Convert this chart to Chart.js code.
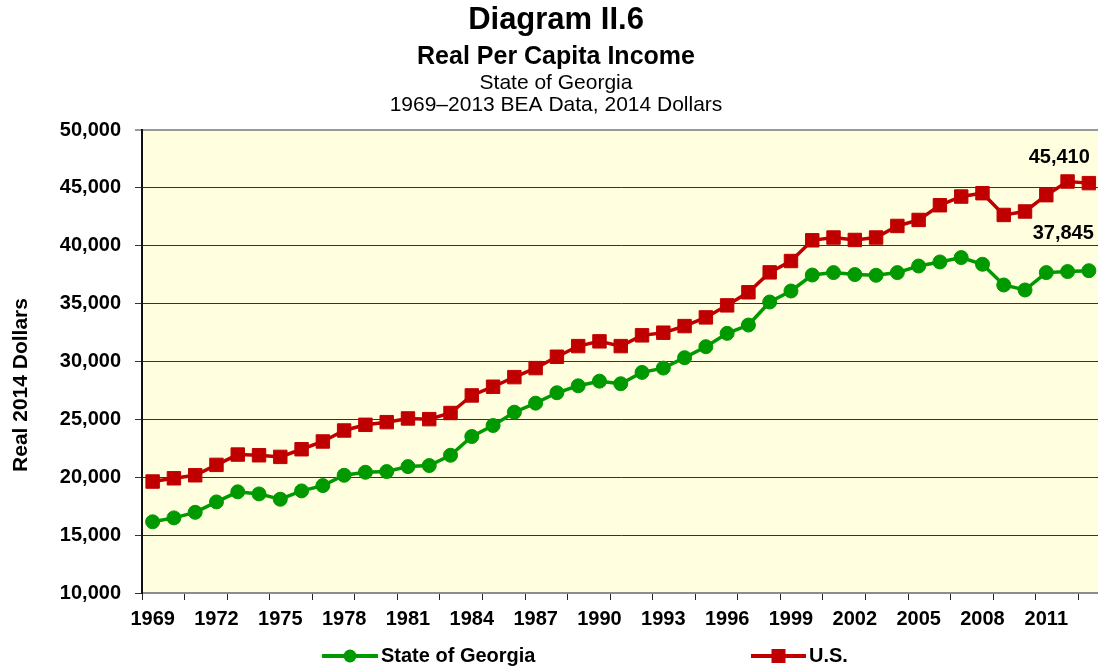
<!DOCTYPE html>
<html>
<head>
<meta charset="utf-8">
<title>Diagram II.6 - Real Per Capita Income</title>
<script src="https://cdn.jsdelivr.net/npm/chart.js@4.4.1/dist/chart.umd.min.js"></script>
<style>
    html, body { margin: 0; padding: 0; background: #fff; overflow: hidden; }
    #wrap { width: 1110px; height: 669px; }
</style>
</head>
<body>
<div id="wrap"><canvas id="incomeChart" width="1110" height="669"></canvas></div>
<script>
// Data (2014 dollars)
const years = [
    '1969', '1970', '1971', '1972', '1973', '1974', '1975', '1976', '1977', '1978',
    '1979', '1980', '1981', '1982', '1983', '1984', '1985', '1986', '1987', '1988',
    '1989', '1990', '1991', '1992', '1993', '1994', '1995', '1996', '1997', '1998',
    '1999', '2000', '2001', '2002', '2003', '2004', '2005', '2006', '2007', '2008',
    '2009', '2010', '2011', '2012', '2013'
];

const georgiaIncome = [
    16150, 16490, 16970, 17870, 18740, 18560, 18100, 18820, 19280, 20170,
    20430, 20490, 20920, 21010, 21900, 23520, 24470, 25620, 26400, 27300,
    27900, 28300, 28080, 29060, 29430, 30330, 31280, 32430, 33150, 35140,
    36090, 37470, 37680, 37510, 37450, 37680, 38250, 38600, 38980, 38400,
    36610, 36180, 37680, 37770, 37845
];

const usIncome = [
    19630, 19910, 20170, 21070, 21960, 21900, 21760, 22420, 23090, 24040,
    24530, 24760, 25080, 25020, 25550, 27070, 27820, 28650, 29430, 30410,
    31330, 31740, 31330, 32260, 32490, 33060, 33810, 34850, 35980, 37700,
    38680, 40470, 40710, 40500, 40710, 41710, 42230, 43500, 44250, 44540,
    42660, 42960, 44370, 45550, 45410
];

// only every third year gets a label
const labeledYears = ['1969', '1972', '1975', '1978', '1981', '1984', '1987', '1990',
    '1993', '1996', '1999', '2002', '2005', '2008', '2011'];

const yTicks = [10000, 15000, 20000, 25000, 30000, 35000, 40000, 45000, 50000];

const seriesNames = ['State of Georgia', 'U.S.'];

const GREEN = '#009900';
const RED = '#c00000';
const FONT = '"Liberation Sans", Arial, Helvetica, sans-serif';

// Yellow plot background
const plotBackground = {
    id: 'plotBackground',
    beforeDraw(chart) {
        const { ctx, chartArea } = chart;
        ctx.save();
        ctx.fillStyle = '#ffffe0';
        ctx.fillRect(chartArea.left, chartArea.top, chartArea.right - chartArea.left, chartArea.bottom - chartArea.top);
        ctx.restore();
    }
};

// Titles, axis title, legend and the end-of-line value labels
const decorations = {
    id: 'decorations',
    afterDraw(chart) {
        const ctx = chart.ctx;
        const cx = 556;
        ctx.save();
        ctx.fillStyle = '#000';
        ctx.textAlign = 'center';
        ctx.textBaseline = 'alphabetic';
        ctx.font = `bold 31px ${FONT}`;
        ctx.fillText('Diagram II.6', cx, 29);
        ctx.font = `bold 25px ${FONT}`;
        ctx.fillText('Real Per Capita Income', cx, 64);
        ctx.font = `21px ${FONT}`;
        ctx.fillText('State of Georgia', cx, 89);
        ctx.fillText('1969\u20132013 BEA Data, 2014 Dollars', cx, 111);

        // y axis title
        ctx.save();
        ctx.translate(21, 385);
        ctx.rotate(-Math.PI / 2);
        ctx.textBaseline = 'middle';
        ctx.font = `bold 21px ${FONT}`;
        ctx.fillText('Real 2014 Dollars', 0, 0);
        ctx.restore();

        // value labels for the last year
        ctx.font = `bold 20px ${FONT}`;
        ctx.textAlign = 'right';
        ctx.textBaseline = 'middle';
        const usMeta = chart.getDatasetMeta(1).data;
        const gaMeta = chart.getDatasetMeta(0).data;
        const usLast = usMeta[usMeta.length - 1];
        const gaLast = gaMeta[gaMeta.length - 1];
        ctx.fillText(usIncome[usIncome.length - 1].toLocaleString('en-US'), usLast.x + 1, usLast.y - 26);
        ctx.fillText(georgiaIncome[georgiaIncome.length - 1].toLocaleString('en-US'), gaLast.x + 5, gaLast.y - 37);

        // legend
        const ly = 656;
        const items = [
            { name: seriesNames[0], color: GREEN, x0: 322, x1: 378, marker: 'circle' },
            { name: seriesNames[1], color: RED, x0: 751, x1: 806, marker: 'rect' }
        ];
        items.forEach(it => {
            ctx.strokeStyle = it.color;
            ctx.lineWidth = 4;
            ctx.beginPath();
            ctx.moveTo(it.x0, ly);
            ctx.lineTo(it.x1, ly);
            ctx.stroke();
            ctx.fillStyle = it.color;
            const mx = (it.x0 + it.x1) / 2;
            if (it.marker === 'circle') {
                ctx.beginPath();
                ctx.arc(mx, ly, 6.5, 0, Math.PI * 2);
                ctx.fill();
            } else {
                ctx.fillRect(mx - 7, ly - 7, 14, 14);
            }
            ctx.fillStyle = '#000';
            ctx.textAlign = 'left';
            ctx.font = `bold 20px ${FONT}`;
            ctx.fillText(it.name, it.x1 + 3, ly);
        });
        ctx.restore();
    }
};

new Chart(document.getElementById('incomeChart'), {
    type: 'line',
    data: {
        labels: years,
        datasets: [
            {
                label: seriesNames[0],
                data: georgiaIncome,
                borderColor: GREEN,
                backgroundColor: GREEN,
                borderWidth: 3.5,
                pointStyle: 'circle',
                pointRadius: 7,
                pointBorderWidth: 1,
                pointBorderColor: GREEN,
                pointBackgroundColor: GREEN,
                tension: 0
            },
            {
                label: seriesNames[1],
                data: usIncome,
                borderColor: RED,
                backgroundColor: RED,
                borderWidth: 3.5,
                pointStyle: 'rect',
                pointRadius: 9.5,
                pointBorderWidth: 1,
                pointBorderColor: RED,
                pointBackgroundColor: RED,
                tension: 0
            }
        ]
    },
    options: {
        responsive: false,
        animation: false,
        devicePixelRatio: 1,
        events: [],
        layout: { padding: { top: 130, right: 5, bottom: 0, left: 0 } },
        plugins: {
            legend: { display: false },
            title: { display: false },
            tooltip: { enabled: false }
        },
        scales: {
            x: {
                type: 'category',
                offset: true,
                grid: {
                    offset: true,
                    drawOnChartArea: false,
                    drawTicks: true,
                    tickLength: 7,
                    color: c => (c.index % 2 === 0 ? '#222' : 'rgba(0,0,0,0)')
                },
                border: { display: true, color: '#8c8c8c', width: 2 },
                ticks: {
                    autoSkip: false,
                    maxRotation: 0,
                    padding: 7,
                    color: '#000',
                    font: { family: FONT, size: 20, weight: 'bold' },
                    callback: function (value) {
                        const y = this.getLabelForValue(value);
                        return labeledYears.includes(y) ? y : '';
                    }
                },
                afterFit: scale => { scale.height = 76; }
            },
            y: {
                min: yTicks[0],
                max: yTicks[yTicks.length - 1],
                afterBuildTicks: scale => { scale.ticks = yTicks.map(v => ({ value: v })); },
                grid: {
                    tickLength: 7,
                    color: c => (c.tick && c.tick.value === yTicks[yTicks.length - 1] ? '#9a9a9a' : '#333'),
                    lineWidth: c => (c.tick && c.tick.value === yTicks[yTicks.length - 1] ? 2 : 1)
                },
                border: { display: true, color: '#111', width: 2 },
                ticks: {
                    padding: 14,
                    color: '#000',
                    font: { family: FONT, size: 20, weight: 'bold' },
                    callback: v => v.toLocaleString('en-US')
                },
                afterFit: scale => { scale.width = 142; }
            }
        }
    },
    plugins: [plotBackground, decorations]
});
</script>
</body>
</html>
